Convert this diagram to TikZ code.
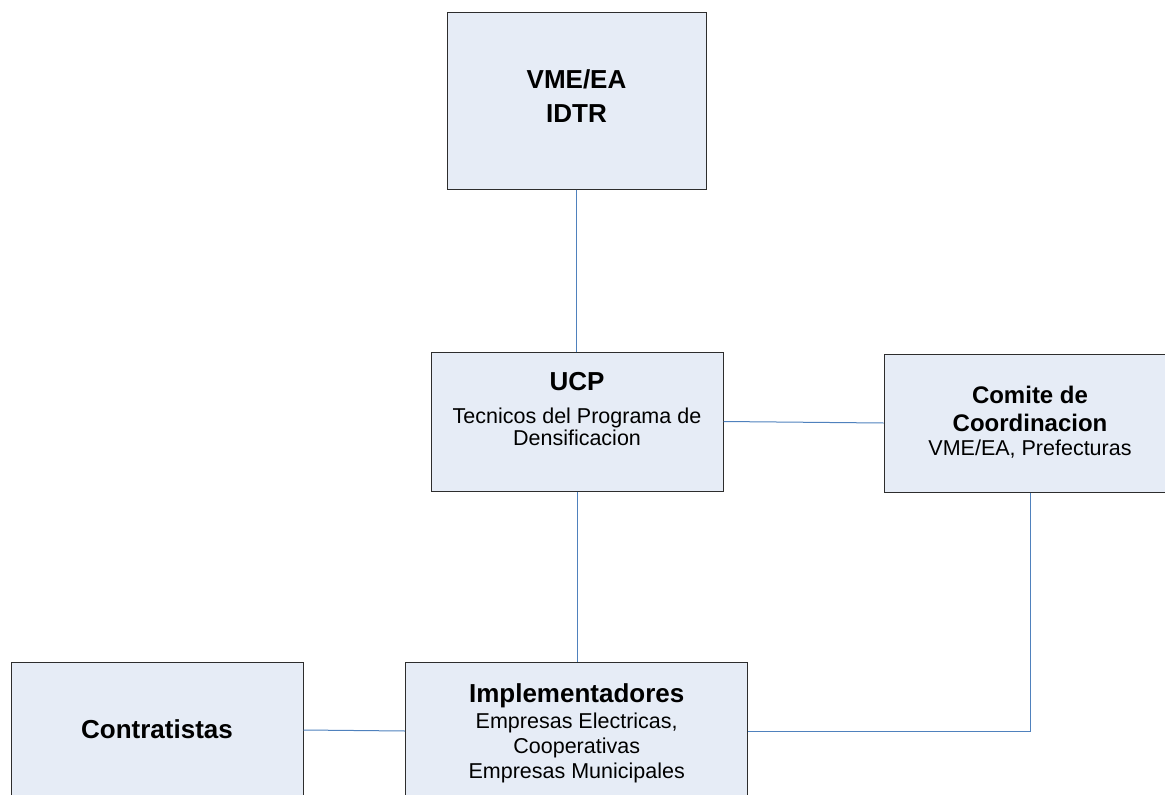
\documentclass[tikz,border=0pt]{standalone}
\usepackage{fontspec}
\setmainfont{Liberation Sans}
\begin{document}
\begin{tikzpicture}[x=1pt,y=-1pt]
    % Define colors
    \definecolor{boxfill}{RGB}{230,236,246}
    \definecolor{boxline}{RGB}{45,45,45}
    \definecolor{linkblue}{RGB}{79,129,189}
    \tikzset{
        orgbox/.style={draw=boxline, fill=boxfill, line width=1pt, inner sep=0pt},
        head/.style={font=\fontsize{26}{30}\selectfont\bfseries, anchor=base, inner sep=0pt},
        headsmall/.style={font=\fontsize{24}{28}\selectfont\bfseries, anchor=base, inner sep=0pt},
        sub/.style={font=\fontsize{21.5}{24}\selectfont, anchor=base, inner sep=0pt},
        link/.style={draw=linkblue, line width=1pt}
    }
    \useasboundingbox (0,0) rectangle (1165,795);

    % Boxes
    \node[orgbox, minimum width=259pt, minimum height=177pt] (vme) at (576.5,100.5) {};
    \node[orgbox, minimum width=292pt, minimum height=139pt] (ucp) at (577,421.5) {};
    \node[orgbox, minimum width=292pt, minimum height=138pt] (comite) at (1030,423) {};
    \node[orgbox, minimum width=292pt, minimum height=136pt] (contr) at (157,730) {};
    \node[orgbox, minimum width=342pt, minimum height=138pt] (impl) at (576.7,731) {};

    % Connectors
    \draw[link] (vme.south) -- (vme.south |- ucp.north);
    \draw[link] (ucp.east) -- (comite.west);
    \draw[link] (ucp.south) -- (ucp.south |- impl.north);
    \draw[link] (comite.south) |- (impl.east);
    \draw[link] (contr.east) -- (impl.west);

    % Labels
    \node[head] (vme-t1) at (576.5,88) {VME/EA};
    \node[head] (vme-t2) at (576.5,122) {IDTR};

    \node[head] (ucp-t) at (577,390) {UCP};
    \node[sub] (ucp-l1) at (577,423) {Tecnicos del Programa de};
    \node[sub] (ucp-l2) at (577,445) {Densificacion};

    \node[headsmall] (comite-t1) at (1030,403) {Comite de};
    \node[headsmall] (comite-t2) at (1030,431) {Coordinacion};
    \node[sub] (comite-l1) at (1030,455) {VME/EA, Prefecturas};

    \node[head] (contr-t) at (157,738) {Contratistas};

    \node[head] (impl-t) at (576.7,702) {Implementadores};
    \node[sub] (impl-l1) at (576.7,728) {Empresas Electricas,};
    \node[sub] (impl-l2) at (576.7,753) {Cooperativas};
    \node[sub] (impl-l3) at (576.7,778) {Empresas Municipales};
\end{tikzpicture}
\end{document}
